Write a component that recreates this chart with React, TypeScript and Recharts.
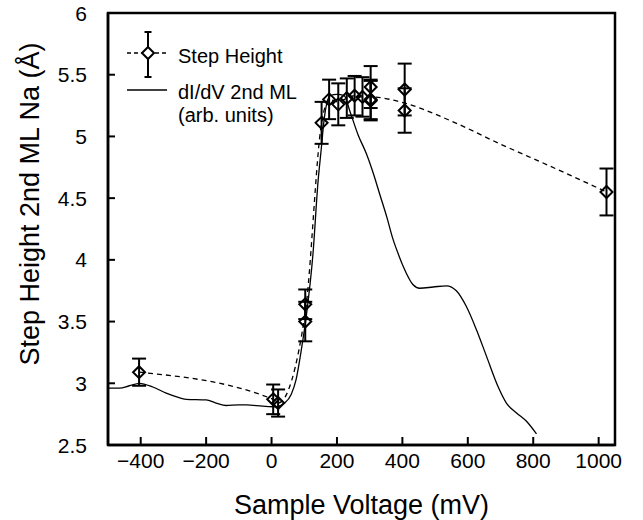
import {
  ComposedChart,
  Line,
  Scatter,
  ErrorBar,
  XAxis,
  YAxis,
  Legend,
  Label,
  ReferenceArea,
  ReferenceLine,
} from "recharts";

// step height measurements (mV, Å, ± Å)
const stepVoltage = [-405, 5, 20, 103, 103, 153, 176, 204, 230, 254, 278, 303, 303, 303, 407, 407, 1024];
const stepHeight = [3.09, 2.87, 2.84, 3.64, 3.5, 5.11, 5.3, 5.26, 5.31, 5.33, 5.32, 5.4, 5.3, 5.29, 5.38, 5.21, 4.55];
const stepError = [0.11, 0.12, 0.11, 0.12, 0.16, 0.17, 0.16, 0.17, 0.16, 0.16, 0.16, 0.17, 0.16, 0.16, 0.21, 0.18, 0.19];

// dashed guide through the step heights
const guideVoltage = [-405, 5, 20, 103, 153, 176, 204, 230, 254, 278, 303, 407, 545, 698, 851, 1024];
const guideHeight = [3.09, 2.87, 2.84, 3.57, 5.11, 5.3, 5.28, 5.31, 5.33, 5.32, 5.32, 5.27, 5.13, 4.94, 4.76, 4.55];

// dI/dV spectrum, 2nd ML (arb. units, on the step height scale)
const didvVoltage = [
  -500, -465, -435, -404, -363, -322, -290, -261, -200, -170, -139, -100, -77, -27, 14, 40, 60, 75, 91, 106,
  127, 142, 152, 160, 170, 180, 200, 222, 240, 265, 290, 310, 331, 352, 371, 390, 402, 420, 432, 453, 494,
  535, 565, 596, 627, 657, 693, 718, 749, 780, 810,
];
const didvSignal = [
  2.96, 2.96, 2.98, 3.0, 2.97, 2.92, 2.89, 2.87, 2.865, 2.84, 2.82, 2.825, 2.825, 2.815, 2.81, 2.84, 2.91, 3.03,
  3.27, 3.54, 4.06, 4.63, 4.9, 5.12, 5.28, 5.33, 5.34, 5.33, 5.2, 5.01, 4.86, 4.71, 4.53, 4.35, 4.17, 4.03, 3.95,
  3.85, 3.8, 3.77, 3.78, 3.79, 3.75, 3.62, 3.43, 3.22, 2.97, 2.84, 2.76, 2.69, 2.59,
];

const xTicks = [-400, -200, 0, 200, 400, 600, 800, 1000];
const yTicks = [2.5, 3, 3.5, 4, 4.5, 5, 5.5, 6];
const xDomain = [-500, 1050];
const yDomain = [2.5, 6];

const stepData = stepVoltage.map((v, i) => ({ v, h: stepHeight[i], err: stepError[i] }));
const guideData = guideVoltage.map((v, i) => ({ v, h: guideHeight[i] }));
const didvData = didvVoltage.map((v, i) => ({ v, h: didvSignal[i] }));

const FONT = '"Liberation Sans", Arial, Helvetica, sans-serif';
const INK = "#000";

// plot box in px (643x520 chart minus margins / axis sizes), used for tick length in data units
const PLOT_W = 643 - 28 - 108;
const PLOT_H = 520 - 13 - 75;
const xTickLen = (8 * (yDomain[1] - yDomain[0])) / PLOT_H;
const yTickLen = (7 * (xDomain[1] - xDomain[0])) / PLOT_W;

// eslint-disable-next-line @typescript-eslint/no-explicit-any
function Diamond(props: any) {
  const { cx, cy } = props;
  const r = 6;
  return (
    <path
      d={`M${cx},${cy - r}L${cx + r},${cy}L${cx},${cy + r}L${cx - r},${cy}Z`}
      fill="none"
      stroke={INK}
      strokeWidth={2}
    />
  );
}

// eslint-disable-next-line @typescript-eslint/no-explicit-any
function XTick(props: any) {
  const x = Number(props.x);
  const y = Number(props.y);
  return (
    <text x={x} y={y} dy="0.72em" textAnchor="middle" fontSize={21} fill={INK} fontFamily={FONT}>
      {String(props.payload.value).replace("-", "\u2212")}
    </text>
  );
}

// eslint-disable-next-line @typescript-eslint/no-explicit-any
function YTick(props: any) {
  const x = Number(props.x);
  const y = Number(props.y);
  return (
    <text x={x} y={y} dy="0.36em" textAnchor="end" fontSize={21} fill={INK} fontFamily={FONT}>
      {props.payload.value}
    </text>
  );
}

function LegendBox() {
  return (
    <svg width={260} height={110} style={{ display: "block", fontFamily: FONT }}>
      <line x1={9} y1={28} x2={50} y2={28} stroke={INK} strokeWidth={1.3} strokeDasharray="4 3" />
      <line x1={30} y1={7} x2={30} y2={52} stroke={INK} strokeWidth={2} />
      <line x1={26.5} y1={7} x2={33.5} y2={7} stroke={INK} strokeWidth={2} />
      <line x1={26.5} y1={52} x2={33.5} y2={52} stroke={INK} strokeWidth={2} />
      <path d="M30,22L36,28L30,34L24,28Z" fill="#fff" stroke={INK} strokeWidth={2} />
      <text x={60} y={38} fontSize={20} fill={INK}>
        Step Height
      </text>
      <line x1={9} y1={65} x2={49} y2={65} stroke={INK} strokeWidth={1.3} />
      <text x={60} y={74} fontSize={20} fill={INK}>
        dI/dV 2nd ML
      </text>
      <text x={60} y={97} fontSize={20} fill={INK}>
        (arb. units)
      </text>
    </svg>
  );
}

// eslint-disable-next-line @typescript-eslint/no-explicit-any
function YTitle(props: any) {
  const vb = props.viewBox;
  const x = vb.x + 30;
  const y = vb.y + vb.height / 2 - 25;
  return (
    <text
      x={x}
      y={y}
      transform={`rotate(-90, ${x}, ${y})`}
      textAnchor="middle"
      dominantBaseline="central"
      fontSize={27}
      fill={INK}
      fontFamily={FONT}>
      Step Height 2nd ML Na (Å)
    </text>
  );
}

export default function App() {
  return (
    <div style={{ position: "absolute", left: 0, top: 0, fontFamily: FONT, background: "#fff" }}>
      <ComposedChart width={643} height={520} margin={{ top: 13, right: 28, bottom: 0, left: 0 }}>
        <XAxis
          dataKey="v"
          type="number"
          domain={xDomain}
          ticks={xTicks}
          allowDataOverflow
          height={75}
          axisLine={{ stroke: INK, strokeWidth: 2.5 }}
          tickLine={false}
          tickSize={1}
          tickMargin={7}
          tick={XTick}>
          <Label
            value="Sample Voltage (mV)"
            position="insideBottom"
            offset={6}
            style={{ fontSize: 27, fill: INK, fontFamily: FONT }}
          />
        </XAxis>
        <YAxis
          type="number"
          domain={yDomain}
          ticks={yTicks}
          allowDataOverflow
          width={108}
          axisLine={{ stroke: INK, strokeWidth: 2.5 }}
          tickLine={false}
          tickSize={1}
          tickMargin={20}
          tick={YTick}>
          <Label content={YTitle} />
        </YAxis>
        <ReferenceArea
          x1={xDomain[0]}
          x2={xDomain[1]}
          y1={yDomain[0]}
          y2={yDomain[1]}
          fill="none"
          fillOpacity={0}
          stroke={INK}
          strokeWidth={2.5}
        />
        {/* inward tick marks */}
        {xTicks.map((t) => (
          <ReferenceLine
            key={`xt${t}`}
            segment={[
              { x: t, y: yDomain[0] },
              { x: t, y: yDomain[0] + xTickLen },
            ]}
            stroke={INK}
            strokeWidth={2}
            ifOverflow="visible"
          />
        ))}
        {yTicks.map((t) => (
          <ReferenceLine
            key={`yt${t}`}
            segment={[
              { x: xDomain[0], y: t },
              { x: xDomain[0] + yTickLen, y: t },
            ]}
            stroke={INK}
            strokeWidth={2}
            ifOverflow="visible"
          />
        ))}
        <Legend
          layout="horizontal"
          verticalAlign="middle"
          align="center"
          wrapperStyle={{ left: 118, top: 25, width: 260, height: 110 }}
          content={() => <LegendBox />}
        />
        <Line
          data={didvData}
          dataKey="h"
          type="monotone"
          stroke={INK}
          strokeWidth={1.3}
          dot={false}
          isAnimationActive={false}
          legendType="none"
        />
        <Line
          data={guideData}
          dataKey="h"
          type="monotone"
          stroke={INK}
          strokeWidth={1.3}
          strokeDasharray="5 4"
          dot={false}
          isAnimationActive={false}
          legendType="none"
        />
        <Scatter data={stepData} dataKey="h" shape={Diamond} isAnimationActive={false} legendType="none">
          <ErrorBar dataKey="err" direction="y" width={7} stroke={INK} strokeWidth={2} isAnimationActive={false} />
        </Scatter>
      </ComposedChart>
    </div>
  );
}
